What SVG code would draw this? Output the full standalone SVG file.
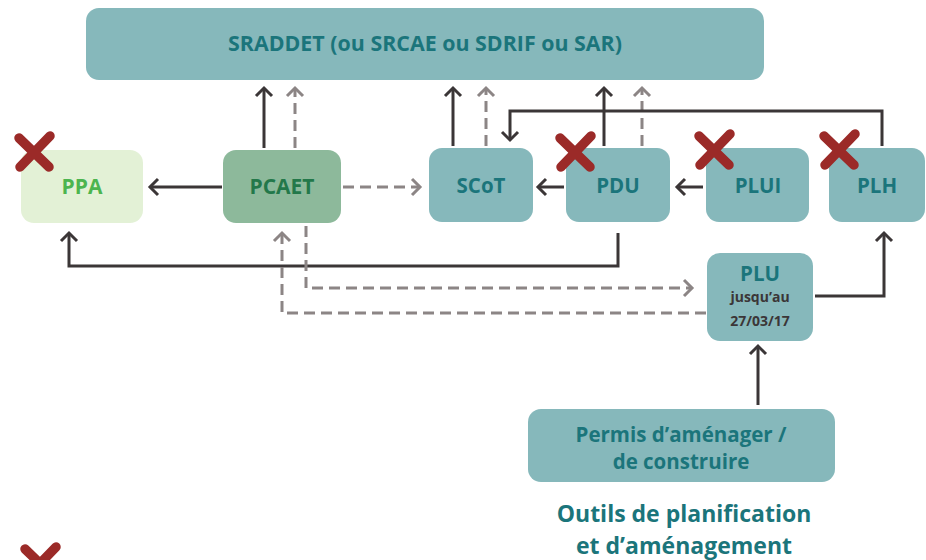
<svg xmlns="http://www.w3.org/2000/svg" width="926" height="560" viewBox="0 0 926 560">
  <defs>
    <style>
      .t { font-family: "Open Sans", "Noto Sans", sans-serif; font-weight: 700; text-anchor: middle; }
      .teal { fill: #86b8bb; }
      .lbl { fill: #1b757b; font-size: 20.5px; }
      .solid { fill: none; stroke: #3b3637; stroke-width: 3; }
      .dash { fill: none; stroke: #8c8585; stroke-width: 3; stroke-dasharray: 11 6; }
      .cross { stroke: #9b2a28; stroke-width: 9.5; stroke-linecap: round; }
    </style>
    <marker id="ah" viewBox="-12 -12 24 24" markerWidth="24" markerHeight="24" markerUnits="userSpaceOnUse" orient="auto">
      <path d="M-8,-8 L0,0 L-8,8" fill="none" stroke="#3b3637" stroke-width="3"/>
    </marker>
    <marker id="ahg" viewBox="-12 -12 24 24" markerWidth="24" markerHeight="24" markerUnits="userSpaceOnUse" orient="auto">
      <path d="M-8,-8 L0,0 L-8,8" fill="none" stroke="#8c8585" stroke-width="3"/>
    </marker>
    <g id="x">
      <line class="cross" x1="-15" y1="-14" x2="15" y2="15"/>
      <line class="cross" x1="16" y1="-16" x2="-14" y2="15"/>
    </g>
  </defs>
  <rect width="926" height="560" fill="#ffffff"/>

  <!-- connectors -->
  <g id="connectors">
    <!-- upward links to the regional scheme -->
    <line class="solid" x1="264" y1="148" x2="264" y2="88" marker-end="url(#ah)"/>
    <line class="dash" x1="295" y1="148" x2="295" y2="88" marker-end="url(#ahg)"/>
    <line class="solid" x1="453" y1="146" x2="453" y2="88" marker-end="url(#ah)"/>
    <line class="dash" x1="486" y1="146" x2="486" y2="88" marker-end="url(#ahg)"/>
    <line class="solid" x1="604" y1="146" x2="604" y2="88" marker-end="url(#ah)"/>
    <line class="dash" x1="642" y1="146" x2="642" y2="88" marker-end="url(#ahg)"/>
    <!-- PLH to SCoT -->
    <polyline class="solid" points="882,146 882,111 510,111 510,140" marker-end="url(#ah)"/>
    <!-- horizontal links -->
    <line class="solid" x1="222" y1="187" x2="150" y2="187" marker-end="url(#ah)"/>
    <line class="dash" x1="343" y1="187" x2="420" y2="187" marker-end="url(#ahg)"/>
    <line class="solid" x1="564" y1="187" x2="538" y2="187" marker-end="url(#ah)"/>
    <line class="solid" x1="703" y1="187" x2="677" y2="187" marker-end="url(#ah)"/>
    <!-- PDU to PPA -->
    <polyline class="solid" points="618,233 618,266 69,266 69,233" marker-end="url(#ah)"/>
    <!-- PCAET to PLU -->
    <polyline class="dash" points="306,226 306,288 692,288" marker-end="url(#ahg)"/>
    <!-- PLU to PCAET -->
    <polyline class="dash" points="706,313 282,313 282,233" marker-end="url(#ahg)"/>
    <!-- PLU to PLH -->
    <polyline class="solid" points="815,296 884,296 884,233" marker-end="url(#ah)"/>
    <!-- permits to PLU -->
    <line class="solid" x1="758" y1="405" x2="758" y2="346" marker-end="url(#ah)"/>
  </g>

  <g id="sraddet">
    <rect class="teal" x="86" y="8" width="678" height="72" rx="13"/>
    <text class="t lbl" x="425" y="51" font-size="20" textLength="394" lengthAdjust="spacingAndGlyphs">SRADDET (ou SRCAE ou SDRIF ou SAR)</text>
  </g>

  <g id="ppa">
    <rect x="21" y="150" width="122" height="73" rx="13" fill="#e3f1d6"/>
    <text class="t" x="82" y="194" font-size="21" fill="#4cb54f">PPA</text>
  </g>

  <g id="pcaet">
    <rect x="223" y="150" width="118" height="73" rx="13" fill="#8db99b"/>
    <text class="t" x="282" y="194" font-size="21" fill="#23784a">PCAET</text>
  </g>

  <g id="scot">
    <rect class="teal" x="429" y="148" width="104" height="74" rx="13"/>
    <text class="t lbl" x="481" y="193">SCoT</text>
  </g>

  <g id="pdu">
    <rect class="teal" x="566" y="148" width="104" height="74" rx="13"/>
    <text class="t lbl" x="618" y="193">PDU</text>
  </g>

  <g id="plui">
    <rect class="teal" x="706" y="148" width="103" height="74" rx="13"/>
    <text class="t lbl" x="758" y="193">PLUI</text>
  </g>

  <g id="plh">
    <rect class="teal" x="829" y="148" width="96" height="74" rx="13"/>
    <text class="t lbl" x="877" y="193">PLH</text>
  </g>

  <g id="plu">
    <rect class="teal" x="707" y="253" width="106" height="88" rx="13"/>
    <text class="t lbl" x="760" y="281">PLU</text>
    <text class="t" x="760" y="302" font-size="14" fill="#3b3637">jusqu’au</text>
    <text class="t" x="760" y="326" font-size="14" fill="#3b3637">27/03/17</text>
  </g>

  <g id="permis">
    <rect class="teal" x="528" y="409" width="307" height="73" rx="13"/>
    <text class="t lbl" x="681" y="442" font-size="21">Permis d’aménager /</text>
    <text class="t lbl" x="681" y="469" font-size="21">de construire</text>
  </g>

  <g id="caption">
    <text class="t" x="684" y="522" font-size="23" fill="#1b757b">Outils de planification</text>
    <text class="t" x="684" y="554" font-size="23" fill="#1b757b">et d’aménagement</text>
  </g>

  <!-- abandoned-plan crosses -->
  <g id="crosses">
    <use href="#x" x="34" y="152"/>
    <use href="#x" x="575" y="152"/>
    <use href="#x" x="714" y="150"/>
    <use href="#x" x="839" y="150"/>
    <use href="#x" x="40" y="563"/>
  </g>
</svg>
